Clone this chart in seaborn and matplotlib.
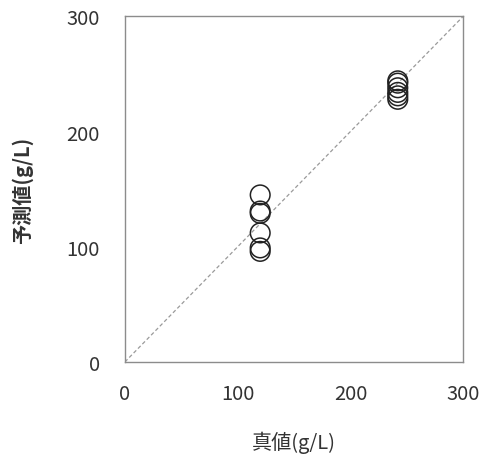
import matplotlib
matplotlib.use("Agg")
import matplotlib.pyplot as plt
import seaborn as sns
import pandas as pd

true_vals = [120, 120, 120, 120, 120, 120, 242, 242, 242, 242, 242, 242]
pred_vals = [145, 131, 129, 112, 99, 96, 244, 242, 238, 234, 231, 228]
ticks = [0, 100, 200, 300]
xlabel = "真値(g/L)"
ylabel = "予測値(g/L)"

sns.set_style("white")
plt.rcParams['font.family'] = ['Noto Sans CJK JP', 'DejaVu Sans']

df = pd.DataFrame({"true": true_vals, "pred": pred_vals})

fig = plt.figure(figsize=(4.84, 4.56), dpi=100)
ax = fig.add_axes([0.258, 0.204, 0.699, 0.758])

ax.plot([0, 300], [0, 300], linestyle=(0, (3, 2)), color="#9a9a9a", linewidth=0.9, zorder=1)
sns.scatterplot(data=df, x="true", y="pred", ax=ax, s=200, marker="o",
                facecolor="none", edgecolor="#222222", linewidth=1.1, zorder=3)

ax.set_xlim(0, 300)
ax.set_ylim(0, 300)
ax.set_xticks(ticks)
ax.set_yticks(ticks)
ax.set_xticklabels([str(t) for t in ticks])
ax.set_yticklabels([str(t) for t in ticks])
ax.tick_params(axis='both', direction='in', length=5, width=1, color="#8c8c8c",
               labelsize=14.5, labelcolor="#333333")
ax.tick_params(axis='x', pad=15)
ax.tick_params(axis='y', pad=18)
for sp in ax.spines.values():
    sp.set_color("#8c8c8c")
    sp.set_linewidth(1.0)

ax.set_xlabel(xlabel, fontsize=14.5, color="#333333", labelpad=19)
ax.set_ylabel(ylabel, fontsize=14.5, color="#333333", labelpad=24, fontweight='semibold')

fig.savefig("out.png", dpi=100)
